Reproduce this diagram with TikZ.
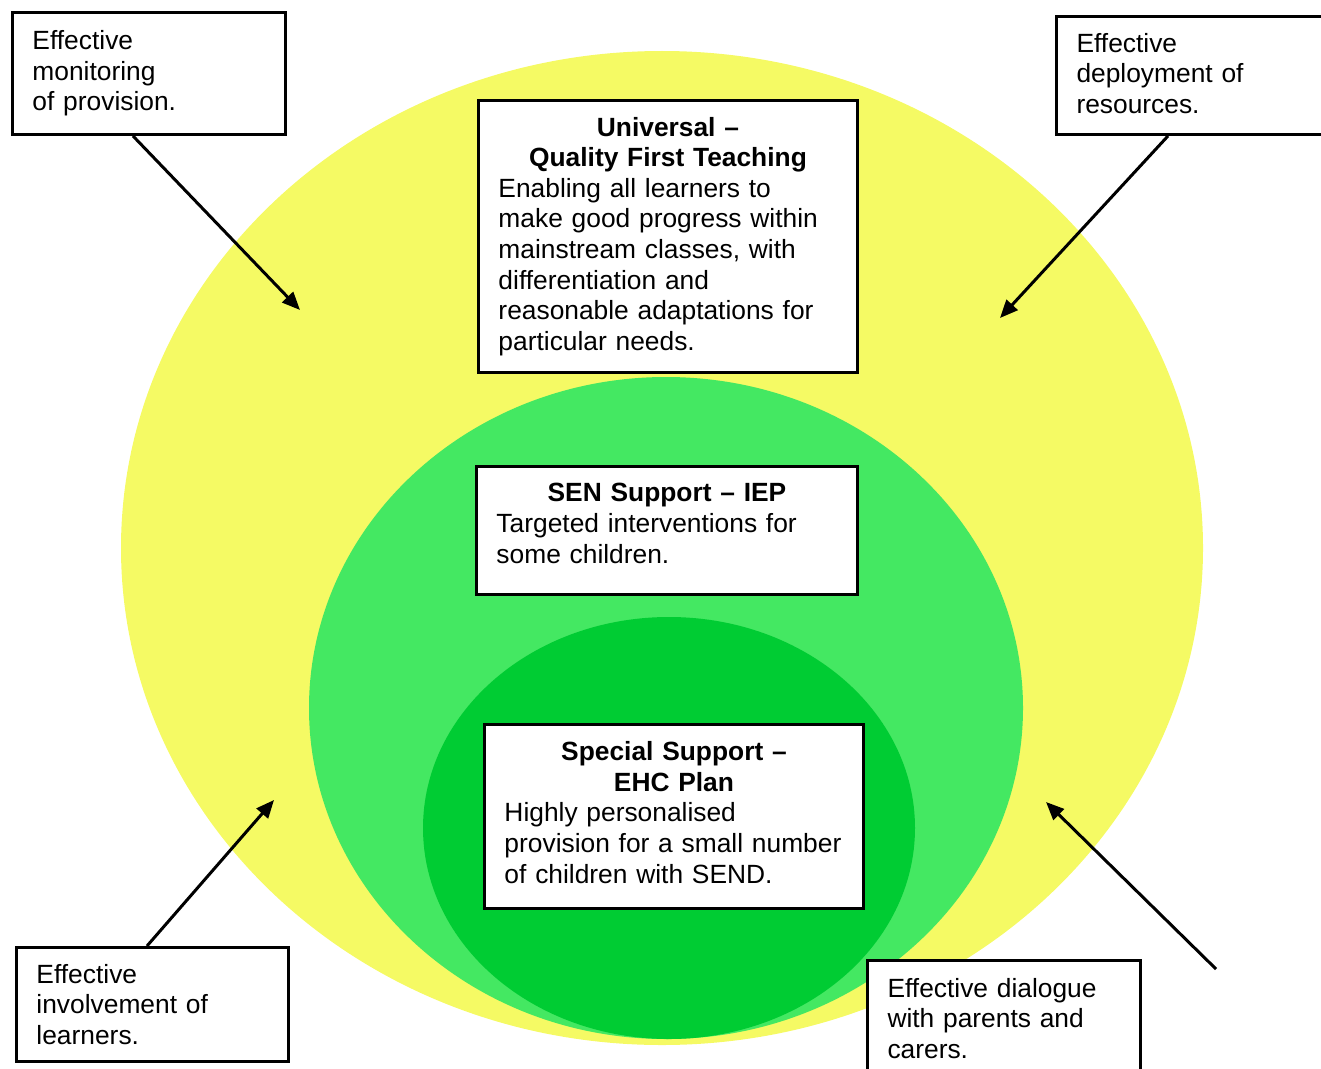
\documentclass[tikz,border=0pt]{standalone}
\usepackage{fontspec}
\setmainfont{Liberation Sans}
\usetikzlibrary{arrows.meta}
\definecolor{qftyellow}{HTML}{F5FA64}
\definecolor{senlight}{HTML}{44E862}
\definecolor{ehcgreen}{HTML}{00CC33}
\tikzset {
    >={Triangle[length=0.36cm, width=0.3cm]},
    every node/.style={font=\fontsize{15}{17.4}\selectfont},
    textbox/.style={draw, line width=1.7pt, fill=white, anchor=north west,
        align=left, inner xsep=0.4cm, inner ysep=0pt},
    pointer/.style={->, line width=1.7pt}
}

\begin{document}
\begin{tikzpicture}[x=0.02cm, y=0.02cm]
    \useasboundingbox (0,0) rectangle (1321,-1068);
    \clip (0,0) rectangle (1321,-1068);

    % the three levels of provision
    \fill[qftyellow] (662,-548) ellipse [x radius=541, y radius=497];
    \fill[senlight] (666,-708) ellipse [x radius=357, y radius=331];
    \fill[ehcgreen] (669,-828) ellipse [x radius=246, y radius=211];

    \node[textbox, text width=6.78cm, minimum height=5.44cm] (qft) at (477,-99)
        {{\centering\bfseries Universal --\\ Quality First Teaching\par}
         Enabling all learners to\\ make good progress within\\ mainstream classes, with\\
         differentiation and\\ reasonable adaptations for\\ particular needs.};
    \node[textbox, text width=6.82cm, minimum height=2.56cm] (sen) at (475,-465)
        {{\centering\bfseries SEN Support -- IEP\par}
         Targeted interventions for\\ some children.\par\kern0.28cm};
    \node[textbox, text width=6.78cm, minimum height=3.68cm] (ehc) at (483,-723)
        {{\centering\bfseries Special Support --\\ EHC Plan\par}
         Highly personalised\\ provision for a small number\\ of children with SEND.\par\kern0.16cm};

    % the four corners
    \node[textbox, text width=4.66cm, minimum height=2.44cm] (monitor) at (11,-11)
        {Effective\\ monitoring\\ of provision.};
    \node[textbox, text width=4.66cm, minimum height=2.36cm] (deploy) at (1055,-15)
        {Effective\\ deployment of\\ resources.\par\kern0.08cm};
    \node[textbox, text width=4.64cm, minimum height=2.28cm] (involve) at (15,-946)
        {Effective\\ involvement of\\ learners.};
    \node[textbox, text width=4.66cm, minimum height=2.32cm] (dialogue) at (866,-959)
        {Effective dialogue\\ with parents and\\ carers.};

    \coordinate (tipmon) at (300,-310);
    \coordinate (tipdep) at (1000,-318);
    \coordinate (tipinv) at (274,-800);
    \coordinate (tipdia) at (1046,-802);
    \coordinate (taildia) at (1216,-969);

    \draw[pointer] ([xshift=2.44cm]monitor.south west) -- (tipmon);
    \draw[pointer] ([xshift=2.26cm]deploy.south west) -- (tipdep);
    \draw[pointer] ([xshift=2.64cm]involve.north west) -- (tipinv);
    \draw[pointer] (taildia) -- (tipdia);
\end{tikzpicture}
\end{document}
